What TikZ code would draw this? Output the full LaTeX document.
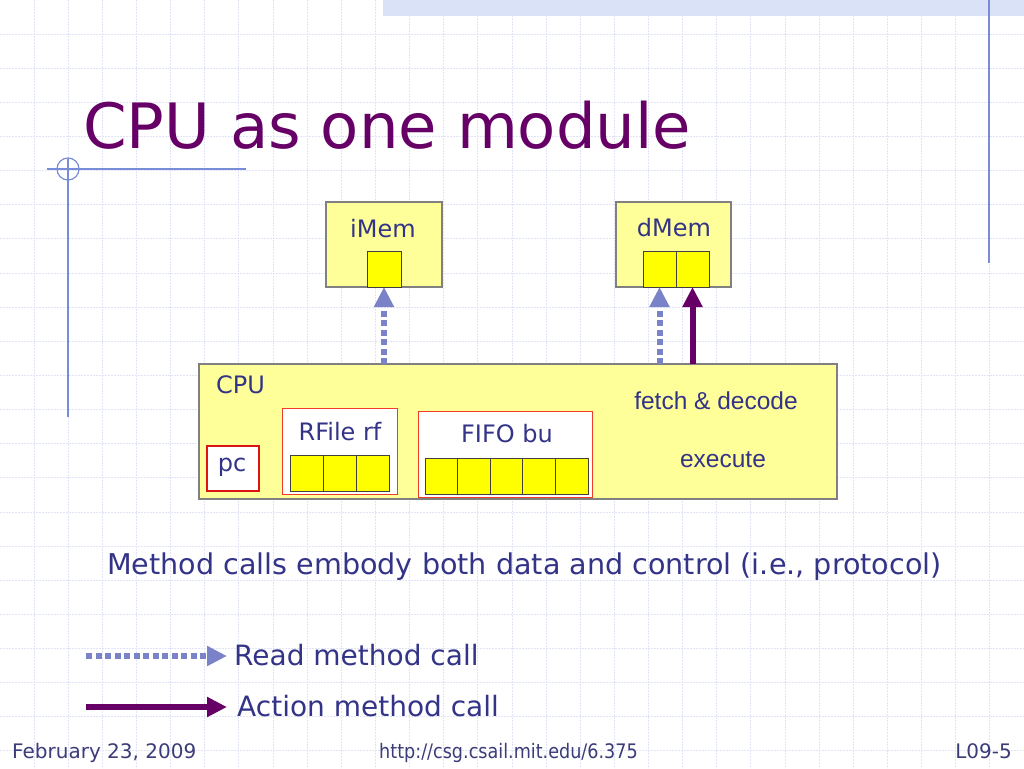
\documentclass[tikz,border=0pt]{standalone}
\usepackage{fontspec}
\usepackage{graphicx}
\setmainfont{DejaVu Sans}
\newfontfamily\arialfont{Liberation Sans}
\usetikzlibrary{arrows.meta}
\usetikzlibrary{positioning}
\usetikzlibrary{calc}

\definecolor{titlepurple}{RGB}{102,0,102}
\definecolor{bodyblue}{RGB}{51,51,136}
\definecolor{footblue}{RGB}{60,60,120}
\definecolor{readblue}{RGB}{122,130,200}
\definecolor{memyellow}{RGB}{255,255,153}
\definecolor{slotyellow}{RGB}{255,255,0}
\definecolor{slotgray}{RGB}{64,64,64}
\definecolor{boxgray}{RGB}{128,128,128}
\definecolor{regred}{RGB}{240,60,40}
\definecolor{pcred}{RGB}{220,20,20}
\definecolor{gridlav}{RGB}{225,227,246}
\definecolor{decoblue}{RGB}{120,140,215}
\definecolor{bandblue}{RGB}{218,226,248}

\tikzset{
  gridline/.style={gridlav, line width=1pt, dash pattern=on 2pt off 1pt},
  decoline/.style={decoblue, line width=1.2pt},
  membox/.style={draw=boxgray, fill=memyellow, line width=1.2pt, inner sep=0pt, outer sep=0pt},
  slot/.style={draw=slotgray, fill=slotyellow, line width=1pt, minimum height=36pt, inner sep=0pt, outer sep=0pt},
  regbox/.style={draw=regred, fill=white, line width=1pt, inner sep=0pt, outer sep=0pt},
  boxlabel/.style={text=bodyblue, font=\fontsize{24}{28}\selectfont, inner sep=0pt, anchor=base},
  bodytext/.style={text=bodyblue, font=\fontsize{28}{32}\selectfont, inner sep=0pt, anchor=base west},
  foottext/.style={text=footblue, font=\fontsize{20}{24}\selectfont, inner sep=0pt, anchor=base west},
  readcall/.style={readblue, line width=6pt, dash pattern=on 6pt off 3.5pt, -{Triangle[length=20pt,width=19pt]}},
  actioncall/.style={titlepurple, line width=6pt, -{Triangle[length=20pt,width=19pt]}},
}

\begin{document}
\begin{tikzpicture}[x=1pt, y=-1pt]
  % page and background grid
  \useasboundingbox (0,0) rectangle (1024,768);
  \fill[white] (0,0) rectangle (1024,768);
  \foreach \k in {1,...,29}
    \draw[gridline] ({\k*34.1333},0) -- ({\k*34.1333},768);
  \foreach \k in {1,...,22}
    \draw[gridline] (0,{\k*34.1333}) -- (1024,{\k*34.1333});
  \fill[bandblue] (383,0) rectangle (1024,16);
  % slide decoration
  \draw[decoline] (989,0) -- (989,263);
  \draw[decoline] (47,169) -- (246,169);
  \draw[decoline] (68,159) -- (68,417);
  \draw[decoline] (68,169) circle (11);

  % title
  \node[anchor=base west, inner sep=0pt, text=titlepurple, font=\fontsize{62.5}{70}\selectfont] (title) at (83,148) {CPU as one module};

  % memories
  \node[membox, minimum width=116pt, minimum height=85pt] (imem) at (384,244.5) {};
  \node[boxlabel] (imemlbl) at (383,237) {iMem};
  \node[slot, minimum width=34pt, anchor=south] (imslot) at (imem.south) {};

  \node[membox, minimum width=115pt, minimum height=85pt] (dmem) at (673.5,244.5) {};
  \node[boxlabel] (dmemlbl) at (674,236) {dMem};
  \node[slot, minimum width=33pt, anchor=south east] (dmslota) at ([xshift=2.5pt]dmem.south) {};
  \node[slot, minimum width=33pt, right=0pt of dmslota] (dmslotb) {};

  % cpu with its state
  \node[membox, minimum width=638pt, minimum height=135pt] (cpu) at (518,431.5) {};
  \node[boxlabel, anchor=base west] (cpulbl) at (216,393) {CPU};

  \node[regbox, line width=2pt, draw=pcred, minimum width=52pt, minimum height=45pt] (pc) at (233,468.5) {};
  \node[boxlabel] (pclbl) at (232,471) {pc};

  \node[regbox, minimum width=115pt, minimum height=86pt] (rfile) at (339.5,451) {};
  \node[boxlabel] (rfilelbl) at (340,440) {RFile rf};
  \node[slot, minimum width=33.3pt, anchor=south west] (rf1) at ([xshift=8pt,yshift=3pt]rfile.south west) {};
  \node[slot, minimum width=33.3pt, right=0pt of rf1] (rf2) {};
  \node[slot, minimum width=33.3pt, right=0pt of rf2] (rf3) {};

  \node[regbox, minimum width=174pt, minimum height=86pt] (fifo) at (505,454) {};
  \node[boxlabel] (fifolbl) at (507,442) {FIFO bu};
  \node[slot, minimum width=32.6pt, anchor=south west] (bu1) at ([xshift=7pt,yshift=3pt]fifo.south west) {};
  \foreach \i [count=\j from 2] in {1,...,4}
    \node[slot, minimum width=32.6pt, right=0pt of bu\i] (bu\j) {};

  \node[boxlabel, font=\arialfont\fontsize{24.5}{28}\selectfont] (fetch) at (716,409) {fetch \& decode};
  \node[boxlabel, font=\arialfont\fontsize{24.5}{28}\selectfont] (exec) at (723,467) {execute};

  % method calls
  \draw[readcall] (cpu.north -| imslot.south) -- (imslot.south);
  \draw[readcall] (cpu.north -| dmslota.south) -- (dmslota.south);
  \draw[actioncall] (cpu.north -| dmslotb.south) -- (dmslotb.south);

  % caption
  \node[bodytext, font=\fontsize{28.6}{32}\selectfont] (note) at (107,574) {Method calls embody both data and control (i.e., protocol)};

  % legend
  \node[bodytext] (readlbl) at (234,665) {Read method call};
  \node[bodytext] (actlbl) at (237,716) {Action method call};
  \coordinate (readstart) at (86,656);
  \coordinate (readend) at (227,656);
  \coordinate (actstart) at (86,707);
  \coordinate (actend) at (227,707);
  \draw[readcall] (readstart) -- (readend);
  \draw[actioncall] (actstart) -- (actend);

  % footer
  \node[foottext] (date) at (12,758) {February 23, 2009};
  \node[foottext] (url) at (379,758) {\scalebox{0.88}[1]{http://csg.csail.mit.edu/6.375}};
  \node[foottext, anchor=base east] (slideno) at (1012,758) {L09-5};
\end{tikzpicture}
\end{document}
